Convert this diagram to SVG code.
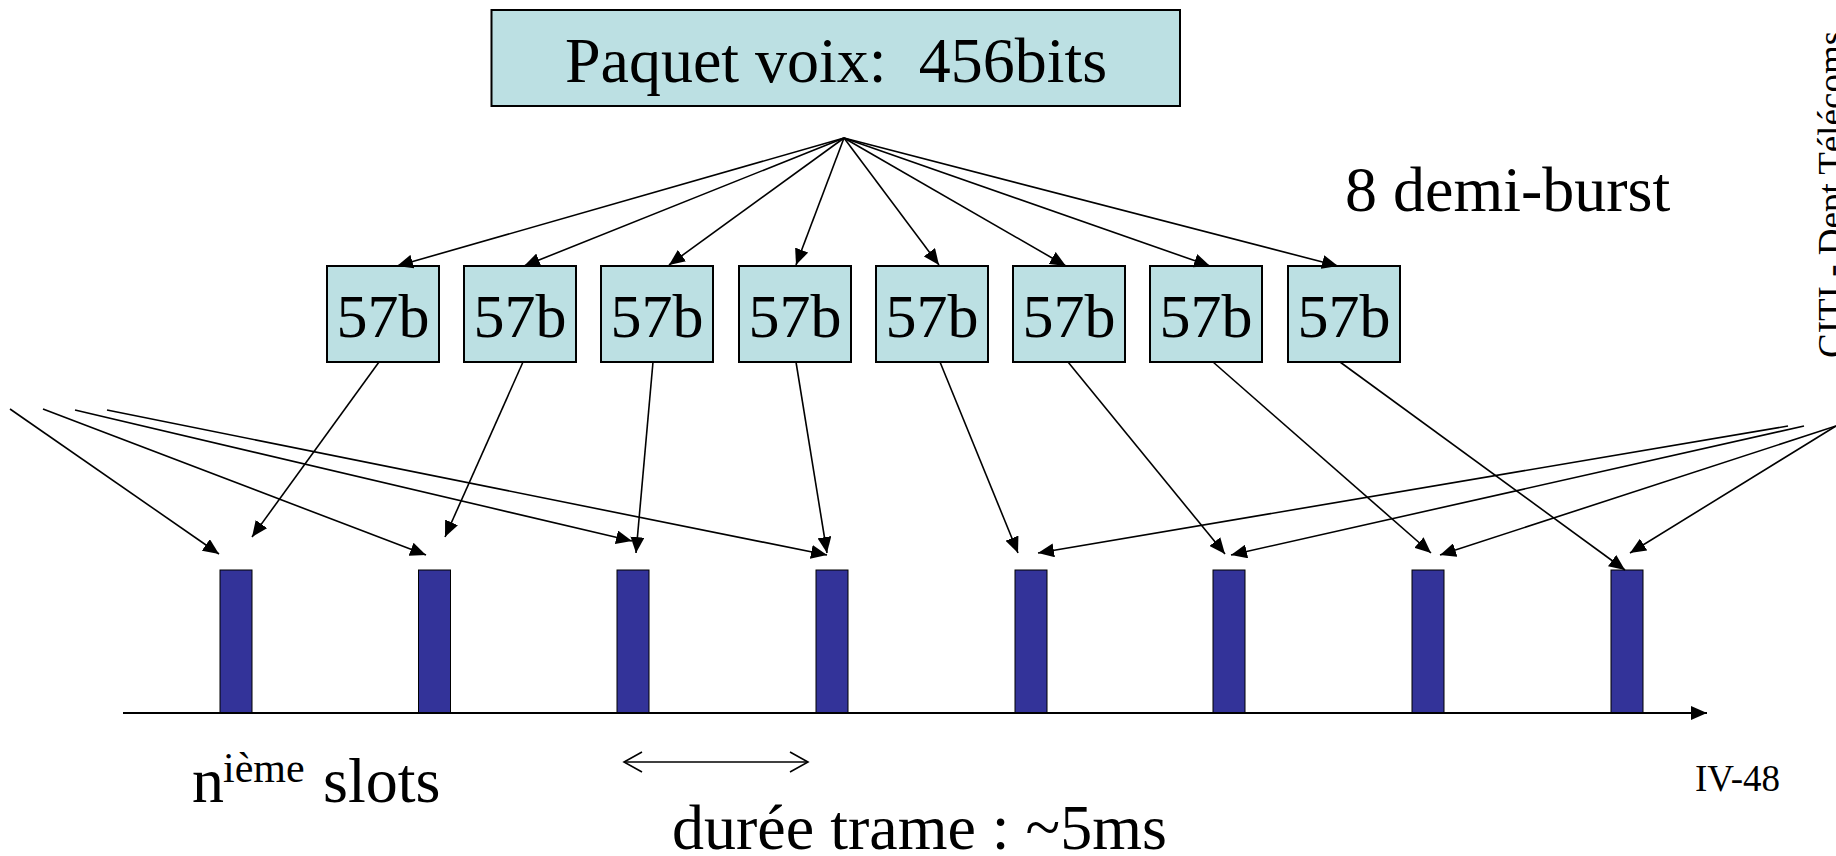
<svg xmlns="http://www.w3.org/2000/svg" width="1836" height="856" viewBox="0 0 1836 856">
<defs>
<style>
.t{font-family:"Liberation Serif","Times New Roman",serif;fill:#000}
.box{fill:#bce0e3;stroke:#000;stroke-width:2}
.slot{fill:#333399;stroke:#000;stroke-width:1}
.c{stroke:#000;stroke-width:1.6;fill:none;marker-end:url(#ah)}
</style>
<marker id="ah" viewBox="0 0 16 14" refX="16" refY="7" markerWidth="16" markerHeight="14" markerUnits="userSpaceOnUse" orient="auto">
<path d="M0,0 L16,7 L0,14 z" fill="#000"/>
</marker>
</defs>
<rect width="1836" height="856" fill="#fff"/>

<g id="paquet">
<rect class="box" x="491.5" y="10" width="688.5" height="96"/>
<text class="t" x="836" y="82" font-size="64" text-anchor="middle" xml:space="preserve">Paquet voix:  456bits</text>
</g>

<g id="label-demi-burst"><text class="t" x="1345" y="211" font-size="64">8 demi-burst</text></g>

<g id="b1"><rect class="box" x="327" y="266" width="112" height="96"/><text class="t" x="383" y="337" font-size="62" text-anchor="middle">57b</text></g>
<g id="b2"><rect class="box" x="464" y="266" width="112" height="96"/><text class="t" x="520" y="337" font-size="62" text-anchor="middle">57b</text></g>
<g id="b3"><rect class="box" x="601" y="266" width="112" height="96"/><text class="t" x="657" y="337" font-size="62" text-anchor="middle">57b</text></g>
<g id="b4"><rect class="box" x="739" y="266" width="112" height="96"/><text class="t" x="795" y="337" font-size="62" text-anchor="middle">57b</text></g>
<g id="b5"><rect class="box" x="876" y="266" width="112" height="96"/><text class="t" x="932" y="337" font-size="62" text-anchor="middle">57b</text></g>
<g id="b6"><rect class="box" x="1013" y="266" width="112" height="96"/><text class="t" x="1069" y="337" font-size="62" text-anchor="middle">57b</text></g>
<g id="b7"><rect class="box" x="1150" y="266" width="112" height="96"/><text class="t" x="1206" y="337" font-size="62" text-anchor="middle">57b</text></g>
<g id="b8"><rect class="box" x="1288" y="266" width="112" height="96"/><text class="t" x="1344" y="337" font-size="62" text-anchor="middle">57b</text></g>

<g id="slots">
<rect class="slot" x="220" y="570" width="32" height="143"/>
<rect class="slot" x="418.5" y="570" width="32" height="143"/>
<rect class="slot" x="617" y="570" width="32" height="143"/>
<rect class="slot" x="816" y="570" width="32" height="143"/>
<rect class="slot" x="1015" y="570" width="32" height="143"/>
<rect class="slot" x="1213" y="570" width="32" height="143"/>
<rect class="slot" x="1412" y="570" width="32" height="143"/>
<rect class="slot" x="1611" y="570" width="32" height="143"/>
</g>

<g id="connectors">
<line class="c" x1="844" y1="138" x2="397" y2="266"/>
<line class="c" x1="844" y1="138" x2="524" y2="266"/>
<line class="c" x1="844" y1="138" x2="669" y2="265"/>
<line class="c" x1="844" y1="138" x2="796" y2="265"/>
<line class="c" x1="844" y1="138" x2="939" y2="265"/>
<line class="c" x1="844" y1="138" x2="1066" y2="266"/>
<line class="c" x1="844" y1="138" x2="1210" y2="266"/>
<line class="c" x1="844" y1="138" x2="1338" y2="266"/>

<line class="c" x1="379" y1="362" x2="252" y2="537"/>
<line class="c" x1="523" y1="362" x2="445" y2="537"/>
<line class="c" x1="653" y1="362" x2="636" y2="553"/>
<line class="c" x1="796" y1="362" x2="827" y2="553"/>
<line class="c" x1="940" y1="362" x2="1018" y2="553"/>
<line class="c" x1="1068" y1="362" x2="1225" y2="554"/>
<line class="c" x1="1213" y1="362" x2="1431" y2="553"/>
<line class="c" x1="1340" y1="362" x2="1625" y2="570"/>

<line class="c" x1="10" y1="409" x2="219" y2="554"/>
<line class="c" x1="43" y1="409" x2="426" y2="555"/>
<line class="c" x1="75" y1="410" x2="632" y2="541"/>
<line class="c" x1="107" y1="410" x2="827" y2="555"/>

<line class="c" x1="1788" y1="426" x2="1038" y2="553"/>
<line class="c" x1="1804" y1="426" x2="1231" y2="555"/>
<line class="c" x1="1836" y1="426" x2="1440" y2="555"/>
<line class="c" x1="1836" y1="426" x2="1630" y2="553"/>

<line class="c" x1="123" y1="713" x2="1707" y2="713" style="stroke-width:2"/>

<g id="duree-arrow" stroke="#000" stroke-width="1.6" fill="none">
<line x1="624" y1="762" x2="808" y2="762"/>
<path d="M642,752 L624,762 L642,772"/>
<path d="M790,752 L808,762 L790,772"/>
</g>
</g>

<g id="label-slots">
<text class="t" x="192" y="802" font-size="64">n</text>
<text class="t" x="223" y="782" font-size="42">ième</text>
<text class="t" x="323" y="802" font-size="64">slots</text>
</g>
<g id="label-duree"><text class="t" x="672" y="849" font-size="64">durée trame : ~5ms</text></g>
<g id="label-page"><text class="t" x="1695" y="791" font-size="37">IV-48</text></g>
<g id="label-citi"><text class="t" transform="translate(1844,358) rotate(-90)" font-size="37">CITI - Dept Télécoms</text></g>
</svg>
